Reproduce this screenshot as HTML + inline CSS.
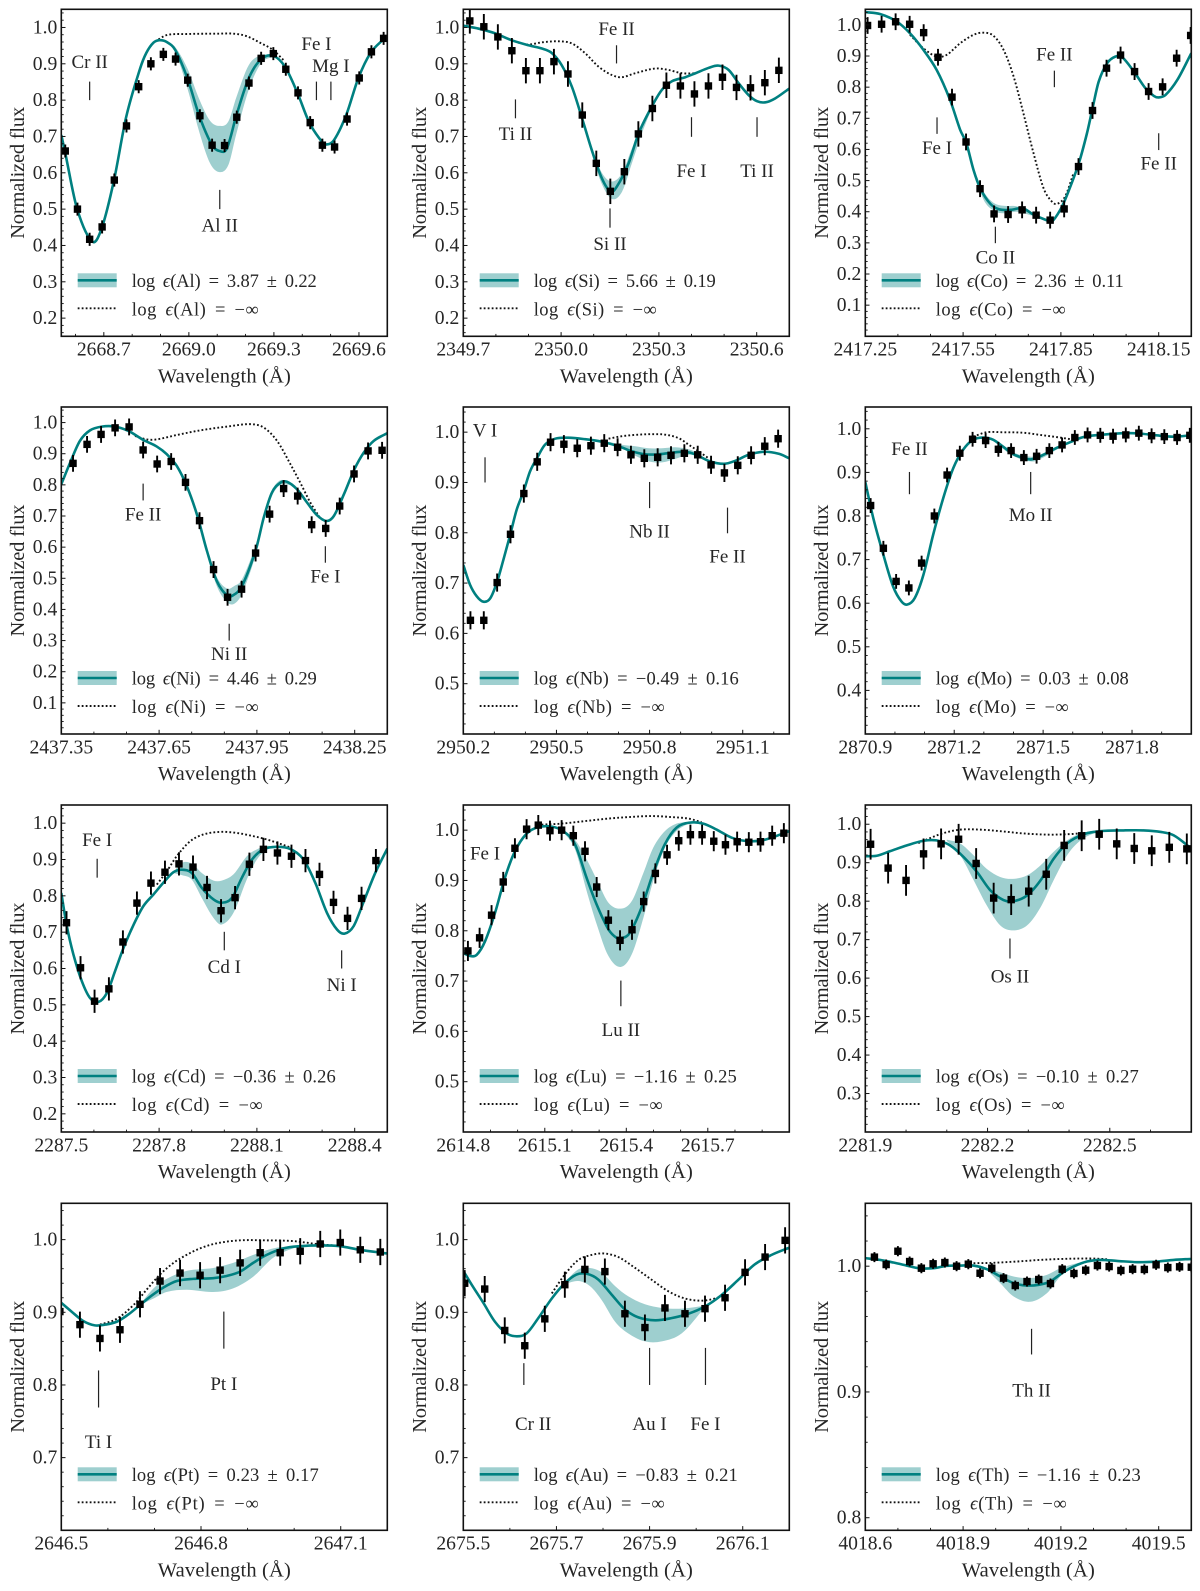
<!DOCTYPE html>
<html lang="en">
<head>
<meta charset="utf-8">
<title>Normalized flux spectra</title>
<style>
html,body{margin:0;padding:0;background:#fff;}
body{width:1200px;height:1591px;overflow:hidden;}
svg{display:block;}
text{font-family:"Liberation Serif","DejaVu Serif",serif;fill:#262626;}
.tick-text{font-size:19.6px;}
.ann-text{font-size:19px;text-anchor:middle;}
.axis-title{font-size:20.5px;text-anchor:middle;}
.legend-text{font-size:18.5px;word-spacing:3.5px;}
.frame{fill:none;stroke:#111;stroke-width:1.6;}
.band{fill:#008080;fill-opacity:.38;stroke:none;}
.model{fill:none;stroke:#008080;stroke-width:2.6;}
.dotted{fill:none;stroke:#111;stroke-width:1.9;stroke-dasharray:1.8 2.2;}
.eps{font-style:italic;}
</style>
</head>
<body>
<svg id="figure" width="1200" height="1591" viewBox="0 0 1200 1591" xmlns="http://www.w3.org/2000/svg">
<defs><clipPath id="axes-clip"><rect x="0" y="0" width="326" height="327"></rect></clipPath></defs>

<g id="panel-al" transform="translate(61.3,9.3)">
<g class="plot"></g>
<rect class="frame" width="326" height="327"></rect>
<text class="axis-title" x="163" y="373" textLength="133">Wavelength (Å)</text>
<text class="axis-title" transform="translate(-37.4,163.5) rotate(-90)" textLength="132">Normalized flux</text>
<g>
<rect class="band" x="16.4" y="264" width="39" height="14"></rect>
<line class="model" x1="16.4" x2="55.4" y1="271" y2="271"></line>
<line class="dotted" x1="16.4" x2="55.4" y1="299" y2="299"></line>
<text class="legend-text" x="70.4" y="277.7" textLength="185">log <tspan class="eps">ϵ</tspan>(Al) = 3.87 ± 0.22</text>
<text class="legend-text" x="70.4" y="306" textLength="127">log <tspan class="eps">ϵ</tspan>(Al) = −∞</text>
</g>
</g>

<g id="panel-si" transform="translate(463.3,9.3)">
<g class="plot"></g>
<rect class="frame" width="326" height="327"></rect>
<text class="axis-title" x="163" y="373" textLength="133">Wavelength (Å)</text>
<text class="axis-title" transform="translate(-37.4,163.5) rotate(-90)" textLength="132">Normalized flux</text>
<g>
<rect class="band" x="16.4" y="264" width="39" height="14"></rect>
<line class="model" x1="16.4" x2="55.4" y1="271" y2="271"></line>
<line class="dotted" x1="16.4" x2="55.4" y1="299" y2="299"></line>
<text class="legend-text" x="70.4" y="277.7" textLength="182">log <tspan class="eps">ϵ</tspan>(Si) = 5.66 ± 0.19</text>
<text class="legend-text" x="70.4" y="306" textLength="123">log <tspan class="eps">ϵ</tspan>(Si) = −∞</text>
</g>
</g>

<g id="panel-co" transform="translate(865.3,9.3)">
<g class="plot"></g>
<rect class="frame" width="326" height="327"></rect>
<text class="axis-title" x="163" y="373" textLength="133">Wavelength (Å)</text>
<text class="axis-title" transform="translate(-37.4,163.5) rotate(-90)" textLength="132">Normalized flux</text>
<g>
<rect class="band" x="16.4" y="264" width="39" height="14"></rect>
<line class="model" x1="16.4" x2="55.4" y1="271" y2="271"></line>
<line class="dotted" x1="16.4" x2="55.4" y1="299" y2="299"></line>
<text class="legend-text" x="70.4" y="277.7" textLength="188">log <tspan class="eps">ϵ</tspan>(Co) = 2.36 ± 0.11</text>
<text class="legend-text" x="70.4" y="306" textLength="130">log <tspan class="eps">ϵ</tspan>(Co) = −∞</text>
</g>
</g>

<g id="panel-ni" transform="translate(61.3,407)">
<g class="plot"></g>
<rect class="frame" width="326" height="327"></rect>
<text class="axis-title" x="163" y="373" textLength="133">Wavelength (Å)</text>
<text class="axis-title" transform="translate(-37.4,163.5) rotate(-90)" textLength="132">Normalized flux</text>
<g>
<rect class="band" x="16.4" y="264" width="39" height="14"></rect>
<line class="model" x1="16.4" x2="55.4" y1="271" y2="271"></line>
<line class="dotted" x1="16.4" x2="55.4" y1="299" y2="299"></line>
<text class="legend-text" x="70.4" y="277.7" textLength="185">log <tspan class="eps">ϵ</tspan>(Ni) = 4.46 ± 0.29</text>
<text class="legend-text" x="70.4" y="306" textLength="127">log <tspan class="eps">ϵ</tspan>(Ni) = −∞</text>
</g>
</g>

<g id="panel-nb" transform="translate(463.3,407)">
<g class="plot"></g>
<rect class="frame" width="326" height="327"></rect>
<text class="axis-title" x="163" y="373" textLength="133">Wavelength (Å)</text>
<text class="axis-title" transform="translate(-37.4,163.5) rotate(-90)" textLength="132">Normalized flux</text>
<g>
<rect class="band" x="16.4" y="264" width="39" height="14"></rect>
<line class="model" x1="16.4" x2="55.4" y1="271" y2="271"></line>
<line class="dotted" x1="16.4" x2="55.4" y1="299" y2="299"></line>
<text class="legend-text" x="70.4" y="277.7" textLength="205">log <tspan class="eps">ϵ</tspan>(Nb) = −0.49 ± 0.16</text>
<text class="legend-text" x="70.4" y="306" textLength="131">log <tspan class="eps">ϵ</tspan>(Nb) = −∞</text>
</g>
</g>

<g id="panel-mo" transform="translate(865.3,407)">
<g class="plot"></g>
<rect class="frame" width="326" height="327"></rect>
<text class="axis-title" x="163" y="373" textLength="133">Wavelength (Å)</text>
<text class="axis-title" transform="translate(-37.4,163.5) rotate(-90)" textLength="132">Normalized flux</text>
<g>
<rect class="band" x="16.4" y="264" width="39" height="14"></rect>
<line class="model" x1="16.4" x2="55.4" y1="271" y2="271"></line>
<line class="dotted" x1="16.4" x2="55.4" y1="299" y2="299"></line>
<text class="legend-text" x="70.4" y="277.7" textLength="193">log <tspan class="eps">ϵ</tspan>(Mo) = 0.03 ± 0.08</text>
<text class="legend-text" x="70.4" y="306" textLength="133">log <tspan class="eps">ϵ</tspan>(Mo) = −∞</text>
</g>
</g>

<g id="panel-cd" transform="translate(61.3,805)">
<g class="plot"></g>
<rect class="frame" width="326" height="327"></rect>
<text class="axis-title" x="163" y="373" textLength="133">Wavelength (Å)</text>
<text class="axis-title" transform="translate(-37.4,163.5) rotate(-90)" textLength="132">Normalized flux</text>
<g>
<rect class="band" x="16.4" y="264" width="39" height="14"></rect>
<line class="model" x1="16.4" x2="55.4" y1="271" y2="271"></line>
<line class="dotted" x1="16.4" x2="55.4" y1="299" y2="299"></line>
<text class="legend-text" x="70.4" y="277.7" textLength="204">log <tspan class="eps">ϵ</tspan>(Cd) = −0.36 ± 0.26</text>
<text class="legend-text" x="70.4" y="306" textLength="131">log <tspan class="eps">ϵ</tspan>(Cd) = −∞</text>
</g>
</g>

<g id="panel-lu" transform="translate(463.3,805)">
<g class="plot"></g>
<rect class="frame" width="326" height="327"></rect>
<text class="axis-title" x="163" y="373" textLength="133">Wavelength (Å)</text>
<text class="axis-title" transform="translate(-37.4,163.5) rotate(-90)" textLength="132">Normalized flux</text>
<g>
<rect class="band" x="16.4" y="264" width="39" height="14"></rect>
<line class="model" x1="16.4" x2="55.4" y1="271" y2="271"></line>
<line class="dotted" x1="16.4" x2="55.4" y1="299" y2="299"></line>
<text class="legend-text" x="70.4" y="277.7" textLength="203">log <tspan class="eps">ϵ</tspan>(Lu) = −1.16 ± 0.25</text>
<text class="legend-text" x="70.4" y="306" textLength="129">log <tspan class="eps">ϵ</tspan>(Lu) = −∞</text>
</g>
</g>

<g id="panel-os" transform="translate(865.3,805)">
<g class="plot"></g>
<rect class="frame" width="326" height="327"></rect>
<text class="axis-title" x="163" y="373" textLength="133">Wavelength (Å)</text>
<text class="axis-title" transform="translate(-37.4,163.5) rotate(-90)" textLength="132">Normalized flux</text>
<g>
<rect class="band" x="16.4" y="264" width="39" height="14"></rect>
<line class="model" x1="16.4" x2="55.4" y1="271" y2="271"></line>
<line class="dotted" x1="16.4" x2="55.4" y1="299" y2="299"></line>
<text class="legend-text" x="70.4" y="277.7" textLength="203">log <tspan class="eps">ϵ</tspan>(Os) = −0.10 ± 0.27</text>
<text class="legend-text" x="70.4" y="306" textLength="129">log <tspan class="eps">ϵ</tspan>(Os) = −∞</text>
</g>
</g>

<g id="panel-pt" transform="translate(61.3,1203.3)">
<g class="plot"></g>
<rect class="frame" width="326" height="327"></rect>
<text class="axis-title" x="163" y="373" textLength="133">Wavelength (Å)</text>
<text class="axis-title" transform="translate(-37.4,163.5) rotate(-90)" textLength="132">Normalized flux</text>
<g>
<rect class="band" x="16.4" y="264" width="39" height="14"></rect>
<line class="model" x1="16.4" x2="55.4" y1="271" y2="271"></line>
<line class="dotted" x1="16.4" x2="55.4" y1="299" y2="299"></line>
<text class="legend-text" x="70.4" y="277.7" textLength="187">log <tspan class="eps">ϵ</tspan>(Pt) = 0.23 ± 0.17</text>
<text class="legend-text" x="70.4" y="306" textLength="127">log <tspan class="eps">ϵ</tspan>(Pt) = −∞</text>
</g>
</g>

<g id="panel-au" transform="translate(463.3,1203.3)">
<g class="plot"></g>
<rect class="frame" width="326" height="327"></rect>
<text class="axis-title" x="163" y="373" textLength="133">Wavelength (Å)</text>
<text class="axis-title" transform="translate(-37.4,163.5) rotate(-90)" textLength="132">Normalized flux</text>
<g>
<rect class="band" x="16.4" y="264" width="39" height="14"></rect>
<line class="model" x1="16.4" x2="55.4" y1="271" y2="271"></line>
<line class="dotted" x1="16.4" x2="55.4" y1="299" y2="299"></line>
<text class="legend-text" x="70.4" y="277.7" textLength="204">log <tspan class="eps">ϵ</tspan>(Au) = −0.83 ± 0.21</text>
<text class="legend-text" x="70.4" y="306" textLength="131">log <tspan class="eps">ϵ</tspan>(Au) = −∞</text>
</g>
</g>

<g id="panel-th" transform="translate(865.3,1203.3)">
<g class="plot"></g>
<rect class="frame" width="326" height="327"></rect>
<text class="axis-title" x="163" y="373" textLength="133">Wavelength (Å)</text>
<text class="axis-title" transform="translate(-37.4,163.5) rotate(-90)" textLength="132">Normalized flux</text>
<g>
<rect class="band" x="16.4" y="264" width="39" height="14"></rect>
<line class="model" x1="16.4" x2="55.4" y1="271" y2="271"></line>
<line class="dotted" x1="16.4" x2="55.4" y1="299" y2="299"></line>
<text class="legend-text" x="70.4" y="277.7" textLength="205">log <tspan class="eps">ϵ</tspan>(Th) = −1.16 ± 0.23</text>
<text class="legend-text" x="70.4" y="306" textLength="131">log <tspan class="eps">ϵ</tspan>(Th) = −∞</text>
</g>
</g>
</svg>

<script>
// All *Dw arrays are wavelength offsets (Angstrom) from the panel's lower x limit; all other numbers are flux.
// ---- Al ----
const alXLim=[2668.55,2669.70], alYLim=[0.15,1.05];
const alXTicks=['2668.7','2669.0','2669.3','2669.6'], alYTicks=['0.2','0.3','0.4','0.5','0.6','0.7','0.8','0.9','1.0'];
const alObsDw=[.014,.057,.100,.144,.187,.230,.273,.316,.360,.403,.446,.489,.532,.576,.619,.662,.705,.748,.792,.835,.878,.921,.964,1.008,1.051,1.094,1.137];
const alObsFlux=[.660,.500,.417,.451,.580,.729,.837,.900,.926,.913,.855,.757,.676,.675,.753,.847,.915,.928,.885,.820,.738,.676,.671,.748,.861,.933,.970];
const alErr=.018;
const alModelDw=[0,.014,.056,.111,.144,.186,.229,.278,.300,.325,.346,.372,.402,.445,.488,.532,.558,.584,.618,.661,.704,.747,.789,.833,.875,.919,.936,.962,1.005,1.048,1.091,1.136,1.15];
const alModelFlux=[.704,.654,.500,.410,.451,.580,.754,.887,.930,.958,.965,.960,.938,.860,.754,.676,.660,.667,.759,.860,.912,.922,.892,.820,.738,.686,.678,.690,.759,.861,.930,.967,.976];
const alBandDw=[.372,.402,.445,.488,.525,.558,.589,.618,.661,.704,.747];
const alBandHi=[.960,.946,.887,.800,.743,.729,.741,.809,.896,.924,.924];
const alBandLo=[.958,.932,.832,.709,.626,.602,.621,.709,.828,.901,.920];
const alDotDw=[.331,.372,.442,.558,.607,.654,.701,.747,.784];
const alDotFlux=[.961,.979,.982,.983,.983,.976,.958,.938,.910];
const alAnnLabels=['Cr II','Al II','Fe I','Mg I'], alAnnDw=[.100,.559,.900,.951], alAnnTop=[.851,.553,.851,.851], alAnnBottom=[.800,.500,.800,.800], alAnnTextFlux=[.889,.438,.938,.878], alAnnTextDw=[.100,.559,.900,.951];

// ---- Si ----
const siXLim=[2349.7,2350.7], siYLim=[0.15,1.05];
const siXTicks=['2349.7','2350.0','2350.3','2350.6'], siYTicks=['0.2','0.3','0.4','0.5','0.6','0.7','0.8','0.9','1.0'];
const siObsDw=[.020,.063,.106,.149,.192,.235,.278,.321,.365,.408,.451,.494,.537,.580,.623,.666,.709,.752,.795,.838,.881,.925,.968];
const siObsFlux=[1.018,1.002,.974,.936,.881,.881,.906,.872,.759,.626,.549,.603,.707,.777,.841,.839,.817,.839,.863,.835,.834,.848,.882];
const siErr=.035;
const siModelDw=[0,.046,.097,.148,.200,.241,.271,.302,.333,.363,.394,.425,.452,.471,.507,.538,.578,.609,.640,.681,.712,.753,.783,.814,.845,.875,.901,.927,.957,1.0];
const siModelFlux=[1.005,.997,.984,.965,.951,.942,.930,.896,.837,.754,.663,.585,.548,.562,.626,.709,.782,.828,.852,.863,.874,.889,.895,.883,.846,.814,.797,.794,.805,.832];
const siBandDw=[.333,.363,.394,.425,.456,.487,.517,.548,.578];
const siBandHi=[.839,.759,.672,.600,.576,.599,.667,.731,.786];
const siBandLo=[.835,.750,.652,.569,.528,.548,.626,.709,.777];
const siDotDw=[.169,.200,.241,.292,.333,.374,.415,.456,.486,.527,.589,.630,.671,.712];
const siDotFlux=[.958,.953,.959,.962,.956,.929,.892,.869,.863,.874,.887,.883,.874,.874];
const siAnnLabels=['Ti II','Fe II','Si II','Fe I','Ti II'], siAnnDw=[.160,.470,.450,.700,.901], siAnnTop=[.802,.951,.502,.753,.753], siAnnBottom=[.750,.901,.449,.699,.699], siAnnTextFlux=[.690,.979,.388,.589,.589], siAnnTextDw=[.160,.470,.450,.700,.901];

// ---- Co ----
const coXLim=[2417.25,2418.25], coYLim=[0,1.05];
const coXTicks=['2417.25','2417.55','2417.85','2418.15'], coYTicks=['0.1','0.2','0.3','0.4','0.5','0.6','0.7','0.8','0.9','1.0'];
const coObsDw=[.007,.050,.093,.136,.179,.223,.266,.309,.352,.395,.438,.481,.524,.567,.610,.654,.697,.740,.783,.826,.869,.912,.955,.998];
const coObsFlux=[.998,1.002,1.010,1.002,.975,.896,.768,.624,.474,.393,.391,.406,.389,.373,.409,.545,.725,.861,.903,.850,.786,.801,.893,.966];
const coErr=.027;
const coModelDw=[0,.045,.096,.137,.178,.219,.260,.291,.310,.332,.353,.384,.410,.445,.483,.517,.558,.572,.598,.619,.655,.680,.697,.716,.742,.767,.788,.824,.859,.885,.900,.921,.957,1.0];
const coModelFlux=[1.041,1.035,1.011,.973,.920,.855,.759,.663,.620,.534,.474,.425,.408,.406,.411,.390,.372,.368,.406,.454,.556,.652,.732,.818,.877,.898,.896,.850,.797,.772,.767,.775,.823,.909];
const coBandDw=[.332,.363,.393,.424,.465,.510];
const coBandHi=[.540,.465,.429,.419,.417,.393];
const coBandLo=[.529,.438,.404,.395,.400,.388];
const coDotDw=[.137,.178,.219,.250,.291,.332,.362,.393,.424,.455,.485,.516,.547,.572,.588,.613,.639];
const coDotFlux=[.968,.925,.898,.904,.941,.968,.975,.965,.920,.834,.716,.588,.475,.433,.425,.449,.524];
const coAnnLabels=['Fe I','Co II','Fe II','Fe II'], coAnnDw=[.220,.399,.580,.900], coAnnTop=[.703,.352,.853,.652], coAnnBottom=[.650,.299,.800,.598], coAnnTextFlux=[.586,.234,.885,.536], coAnnTextDw=[.220,.399,.580,.900];

// ---- Ni ----
const niXLim=[2437.35,2438.35], niYLim=[0,1.05];
const niXTicks=['2437.35','2437.65','2437.95','2438.25'], niYTicks=['0.1','0.2','0.3','0.4','0.5','0.6','0.7','0.8','0.9','1.0'];
const niObsDw=[.036,.079,.122,.165,.208,.251,.294,.337,.381,.424,.467,.510,.553,.596,.639,.682,.725,.768,.811,.854,.898,.941,.984];
const niObsFlux=[.869,.930,.962,.983,.986,.912,.867,.875,.808,.685,.528,.439,.465,.581,.706,.788,.764,.672,.660,.732,.835,.909,.911];
const niErr=.027;
const niModelDw=[0,.027,.057,.088,.124,.165,.206,.252,.293,.324,.354,.385,.416,.447,.477,.508,.523,.554,.597,.621,.646,.672,.692,.723,.754,.784,.813,.836,.867,.899,.928,.958,1.0];
const niModelFlux=[.802,.871,.941,.975,.987,.987,.973,.944,.923,.898,.861,.796,.705,.587,.491,.445,.443,.475,.593,.695,.775,.807,.810,.786,.743,.703,.684,.700,.770,.850,.904,.941,.966];
const niBandDw=[.354,.385,.416,.447,.477,.508,.530,.554,.597,.621,.646,.672,.700];
const niBandHi=[.864,.800,.711,.593,.504,.467,.475,.496,.609,.705,.782,.815,.807];
const niBandLo=[.857,.793,.700,.579,.475,.424,.418,.450,.577,.684,.764,.800,.800];
const niDotDw=[.226,.262,.293,.354,.426,.508,.580,.621,.662,.703,.733,.764,.795];
const niDotFlux=[.957,.946,.946,.960,.975,.987,.995,.984,.941,.866,.807,.743,.692];
const niAnnLabels=['Fe II','Ni II','Fe I'], niAnnDw=[.251,.515,.810], niAnnTop=[.804,.354,.603], niAnnBottom=[.750,.300,.550], niAnnTextFlux=[.686,.237,.486], niAnnTextDw=[.251,.515,.810];

// ---- Nb ----
const nbXLim=[2950.2,2951.25], nbYLim=[0.4,1.05];
const nbXTicks=['2950.2','2950.5','2950.8','2951.1'], nbYTicks=['0.5','0.6','0.7','0.8','0.9','1.0'];
const nbObsDw=[.023,.066,.109,.152,.195,.238,.281,.324,.367,.411,.454,.497,.540,.583,.626,.669,.712,.755,.798,.841,.884,.927,.971,1.014];
const nbObsFlux=[.626,.626,.701,.797,.878,.941,.980,.976,.968,.973,.978,.970,.955,.948,.950,.954,.958,.955,.935,.919,.934,.954,.972,.987];
const nbErr=.018;
const nbModelDw=[0,.0215,.043,.0645,.086,.1075,.129,.151,.172,.194,.215,.237,.263,.296,.339,.392,.446,.500,.543,.586,.629,.683,.715,.747,.790,.839,.876,.919,.968,1.016,1.05];
const nbModelFlux=[.736,.697,.674,.663,.669,.700,.746,.796,.846,.882,.922,.948,.975,.987,.989,.986,.981,.972,.962,.956,.956,.960,.961,.956,.943,.937,.943,.955,.961,.957,.948];
const nbBandDw=[.468,.511,.554,.597,.640,.683,.726,.758];
const nbBandHi=[.981,.975,.972,.968,.968,.970,.966,.958];
const nbBandLo=[.980,.968,.953,.942,.940,.947,.955,.954];
const nbDotDw=[.468,.511,.565,.608,.651,.694,.726,.758,.790];
const nbDotFlux=[.987,.992,.995,.996,.995,.988,.975,.962,.948];
const nbAnnLabels=['V I','Nb II','Fe II'], nbAnnDw=[.070,.600,.851], nbAnnTop=[.950,.901,.850], nbAnnBottom=[.900,.849,.799], nbAnnTextFlux=[.991,.791,.741], nbAnnTextDw=[.070,.600,.851];

// ---- Mo ----
const moXLim=[2870.9,2872.0], moYLim=[0.3,1.05];
const moXTicks=['2870.9','2871.2','2871.5','2871.8'], moYTicks=['0.4','0.5','0.6','0.7','0.8','0.9','1.0'];
const moObsDw=[.018,.061,.104,.147,.190,.233,.276,.319,.362,.406,.449,.492,.535,.578,.621,.664,.707,.750,.793,.836,.879,.923,.966,1.009,1.052,1.095];
const moObsFlux=[.824,.726,.650,.635,.692,.800,.894,.944,.976,.973,.953,.950,.934,.937,.950,.963,.980,.986,.985,.983,.986,.990,.984,.982,.980,.985];
const moErr=.017;
const moModelDw=[0,.027,.061,.094,.122,.142,.167,.196,.229,.263,.297,.330,.364,.398,.431,.465,.499,.533,.561,.600,.645,.690,.735,.791,.870,.926,.982,1.038,1.1];
const moModelFlux=[.878,.795,.711,.638,.604,.597,.612,.665,.757,.841,.910,.952,.975,.980,.975,.959,.942,.933,.930,.940,.956,.969,.981,.986,.990,.989,.985,.982,.985];
const moBandDw=[.431,.499,.561,.600,.645,.690];
const moBandHi=[.976,.946,.936,.944,.958,.971];
const moBandLo=[.972,.938,.925,.934,.952,.967];
const moDotDw=[.364,.409,.465,.533,.600,.667,.701];
const moDotFlux=[.982,.992,.992,.991,.985,.979,.975];
const moAnnLabels=['Fe II','Mo II'], moAnnDw=[.149,.558], moAnnTop=[.901,.901], moAnnBottom=[.850,.850], moAnnTextFlux=[.940,.789], moAnnTextDw=[.149,.558];

// ---- Cd ----
const cdXLim=[2287.5,2288.5], cdYLim=[0.15,1.05];
const cdXTicks=['2287.5','2287.8','2288.1','2288.4'], cdYTicks=['0.2','0.3','0.4','0.5','0.6','0.7','0.8','0.9','1.0'];
const cdObsDw=[.016,.059,.102,.146,.189,.232,.275,.318,.361,.404,.447,.490,.533,.577,.620,.663,.706,.749,.792,.835,.878,.921,.965];
const cdObsFlux=[.726,.602,.510,.544,.673,.780,.835,.865,.888,.879,.823,.759,.795,.887,.928,.918,.909,.897,.859,.782,.738,.793,.897];
const cdErr=.032;
const cdModelDw=[0,.016,.037,.063,.088,.114,.140,.165,.191,.222,.252,.283,.313,.344,.370,.400,.431,.467,.492,.523,.554,.585,.620,.661,.702,.743,.779,.815,.846,.869,.897,.928,.963,1.0];
const cdModelFlux=[.808,.721,.639,.565,.519,.508,.533,.593,.657,.721,.772,.804,.836,.865,.872,.863,.822,.790,.781,.794,.850,.900,.928,.935,.929,.900,.836,.753,.707,.696,.717,.785,.863,.930];
const cdBandDw=[.344,.370,.400,.431,.467,.492,.528,.569,.600,.631,.661];
const cdBandHi=[.865,.891,.889,.863,.842,.842,.859,.909,.928,.937,.936];
const cdBandLo=[.863,.857,.845,.794,.739,.721,.753,.845,.900,.928,.935];
const cdDotDw=[.293,.324,.354,.395,.436,.487,.539,.590,.631,.672,.707];
const cdDotFlux=[.831,.868,.909,.950,.969,.976,.973,.964,.955,.943,.932];
const cdAnnLabels=['Fe I','Cd I','Ni I'], cdAnnDw=[.110,.500,.860], cdAnnTop=[.902,.701,.650], cdAnnBottom=[.850,.650,.600], cdAnnTextFlux=[.937,.588,.538], cdAnnTextDw=[.110,.500,.860];

// ---- Lu ----
const luXLim=[2614.8,2616.0], luYLim=[0.4,1.05];
const luXTicks=['2614.8','2615.1','2615.4','2615.7'], luYTicks=['0.5','0.6','0.7','0.8','0.9','1.0'];
const luObsDw=[.017,.060,.104,.147,.190,.233,.276,.319,.362,.405,.448,.491,.534,.577,.621,.664,.707,.750,.793,.836,.879,.922,.965,1.008,1.051,1.094,1.137,1.180];
const luObsFlux=[.760,.786,.831,.897,.964,1.002,1.010,.999,1.0,.989,.958,.887,.821,.781,.802,.858,.914,.951,.979,.991,.991,.978,.971,.977,.976,.977,.989,.994];
const luErr=.02;
const luModelDw=[0,.0245,.049,.080,.117,.153,.190,.233,.276,.325,.368,.411,.454,.491,.534,.564,.583,.613,.656,.699,.742,.785,.834,.883,.933,.988,1.049,1.110,1.2];
const luModelFlux=[.756,.750,.752,.779,.836,.905,.958,.993,1.006,1.007,.998,.972,.905,.852,.803,.786,.785,.796,.846,.915,.972,1.005,1.015,1.013,1.001,.985,.978,.981,.998];
const luBandDw=[.362,.411,.454,.491,.534,.579,.620,.663,.699,.742,.785,.828];
const luBandHi=[1.001,.981,.942,.902,.856,.844,.859,.915,.965,.998,1.013,1.016];
const luBandLo=[1.0,.962,.879,.813,.750,.728,.753,.826,.899,.965,.998,1.013];
const luDotDw=[.288,.362,.448,.534,.607,.693,.767,.828,.877];
const luDotFlux=[1.011,1.013,1.018,1.023,1.026,1.028,1.026,1.023,1.016];
const luAnnLabels=['Fe I','Lu II'], luAnnDw=[.080,.580], luAnnTop=[null,.701], luAnnBottom=[null,.650], luAnnTextFlux=[.942,.591], luAnnTextDw=[.080,.580];

// ---- Os ----
const osXLim=[2281.9,2282.7], osYLim=[0.2,1.05];
const osXTicks=['2281.9','2282.2','2282.5'], osYTicks=['0.3','0.4','0.5','0.6','0.7','0.8','0.9','1.0'];
const osObsDw=[.013,.056,.100,.143,.186,.229,.272,.315,.358,.401,.444,.488,.531,.574,.617,.660,.703,.746,.789];
const osObsFlux=[.948,.886,.854,.923,.949,.961,.898,.808,.804,.826,.870,.945,.970,.974,.949,.937,.931,.940,.936];
const osErr=.04;
const osModelDw=[0,.028,.061,.102,.143,.175,.208,.241,.274,.307,.339,.364,.397,.430,.462,.495,.536,.577,.634,.684,.725,.757,.8];
const osModelFlux=[.917,.918,.930,.945,.957,.958,.945,.915,.876,.828,.803,.800,.815,.854,.910,.950,.974,.982,.984,.984,.980,.971,.937];
const osBandDw=[.200,.233,.266,.298,.331,.362,.397,.430,.462,.495,.528,.561];
const osBandHi=[.960,.950,.919,.884,.863,.858,.867,.893,.928,.958,.976,.983];
const osBandLo=[.957,.919,.854,.789,.737,.724,.737,.784,.854,.919,.958,.977];
const osDotDw=[.130,.159,.192,.233,.282,.331,.389,.446,.495,.536,.577];
const osDotFlux=[.951,.964,.977,.986,.986,.982,.976,.973,.974,.977,.982];
const osAnnLabels=['Os II'], osAnnDw=[.355], osAnnTop=[.703], osAnnBottom=[.651], osAnnTextFlux=[.589], osAnnTextDw=[.355];

// ---- Pt ----
const ptXLim=[2646.5,2647.2], ptYLim=[0.6,1.05];
const ptXTicks=['2646.5','2646.8','2647.1'], ptYTicks=['0.7','0.8','0.9','1.0'];
const ptObsDw=[-.003,.040,.083,.126,.169,.212,.255,.298,.341,.384,.427,.470,.513,.556,.599,.642,.685];
const ptObsFlux=[.901,.883,.864,.876,.911,.943,.954,.951,.958,.968,.982,.982,.984,.994,.996,.986,.983];
const ptErr=.018;
const ptModelDw=[0,.022,.047,.072,.094,.119,.144,.169,.194,.219,.248,.283,.326,.355,.384,.412,.441,.477,.513,.555,.598,.641,.700];
const ptModelFlux=[.913,.901,.888,.882,.883,.887,.897,.910,.923,.934,.943,.946,.947,.950,.956,.968,.979,.988,.991,.992,.991,.986,.981];
const ptBandDw=[.169,.198,.226,.269,.326,.369,.412,.455,.498,.527];
const ptBandHi=[.911,.933,.946,.957,.961,.968,.979,.988,.991,.992];
const ptBandLo=[.910,.919,.928,.931,.928,.933,.949,.975,.988,.991];
const ptDotDw=[.083,.119,.155,.183,.212,.241,.269,.298,.334,.384,.441,.498,.548,.584];
const ptDotFlux=[.883,.891,.910,.931,.952,.968,.979,.988,.995,.999,.999,.998,.994,.992];
const ptAnnLabels=['Ti I','Pt I'], ptAnnDw=[.080,.349], ptAnnTop=[.820,.901], ptAnnBottom=[.769,.850], ptAnnTextFlux=[.713,.793], ptAnnTextDw=[.080,.349];

// ---- Au ----
const auXLim=[2675.5,2676.2], auYLim=[0.6,1.05];
const auXTicks=['2675.5','2675.7','2675.9','2676.1'], auYTicks=['0.7','0.8','0.9','1.0'];
const auObsDw=[.003,.046,.089,.132,.175,.218,.261,.304,.347,.390,.433,.476,.519,.562,.605,.648,.691];
const auObsFlux=[.940,.932,.875,.854,.891,.938,.959,.956,.898,.879,.906,.898,.905,.920,.955,.976,.999];
const auErr=.018;
const auModelDw=[0,.018,.043,.068,.093,.115,.136,.161,.190,.218,.243,.265,.290,.319,.347,.376,.412,.447,.483,.519,.555,.591,.626,.662,.700];
const auModelFlux=[.957,.938,.913,.887,.871,.867,.871,.892,.919,.940,.952,.953,.945,.924,.904,.893,.889,.892,.898,.908,.924,.945,.966,.979,.989];
const auBandDw=[.218,.247,.272,.297,.326,.354,.390,.426,.469,.519];
const auBandHi=[.942,.959,.961,.955,.936,.922,.911,.906,.905,.909];
const auBandLo=[.939,.943,.936,.917,.887,.871,.860,.860,.871,.907];
const auDotDw=[.190,.218,.247,.276,.301,.333,.369,.404,.440,.476,.512,.540,.562];
const auDotFlux=[.926,.952,.972,.979,.981,.976,.961,.945,.929,.919,.916,.919,.924];
const auAnnLabels=['Cr II','Au I','Fe I'], auAnnDw=[.130,.400,.520], auAnnTop=[.830,.851,.851], auAnnBottom=[.800,.800,.800], auAnnTextFlux=[.738,.738,.738], auAnnTextDw=[.150,.400,.520];

// ---- Th ----
const thXLim=[4018.6,4019.6], thYLim=[0.79,1.05];
const thXTicks=['4018.6','4018.9','4019.2','4019.5'], thYTicks=['0.8','0.9','1.0'];
const thObsDw=[.028,.064,.100,.136,.172,.208,.244,.280,.316,.352,.388,.424,.460,.496,.532,.568,.604,.640,.676,.712,.748,.784,.820,.856,.892,.928,.964,1.000];
const thObsFlux=[1.0072,1.0013,1.0119,1.0037,.9984,1.0019,1.0029,1.0,1.0016,.9944,.9984,.9905,.9846,.9878,.9894,.9862,.9976,.9942,.9968,1.0005,.9997,.9966,.9976,.9974,1.0011,.9989,.9995,.9992];
const thErr=.004;
const thModelDw=[0,.045,.086,.127,.163,.209,.250,.291,.332,.373,.414,.455,.496,.532,.567,.603,.639,.680,.721,.772,.834,.895,.946,1.0];
const thModelFlux=[1.0064,1.005,1.0029,1.0005,.9984,.9984,1.0003,1.0005,1.0005,.9976,.9918,.9865,.9846,.9852,.9878,.9944,.9997,1.0037,1.005,1.0042,1.0032,1.0037,1.005,1.0058];
const thBandDw=[.373,.414,.455,.506,.557,.598,.639,.670];
const thBandHi=[.9984,.9952,.9918,.9905,.9931,.9984,1.0016,1.0037];
const thBandLo=[.9971,.9865,.9759,.9717,.9785,.9918,.9997,1.0034];
const thDotDw=[.332,.383,.465,.537,.608,.690,.741];
const thDotFlux=[1.0024,1.0026,1.0037,1.005,1.0058,1.0061,1.0056];
const thAnnLabels=['Th II'], thAnnDw=[.510], thAnnTop=[.9502], thAnnBottom=[.9298], thAnnTextFlux=[.8964], thAnnTextDw=[.510];

const panelList=[
 ['al',alXLim,alYLim,alXTicks,alYTicks,alObsDw,alObsFlux,alErr,alModelDw,alModelFlux,alBandDw,alBandHi,alBandLo,alDotDw,alDotFlux,alAnnLabels,alAnnDw,alAnnTop,alAnnBottom,alAnnTextFlux,alAnnTextDw],
 ['si',siXLim,siYLim,siXTicks,siYTicks,siObsDw,siObsFlux,siErr,siModelDw,siModelFlux,siBandDw,siBandHi,siBandLo,siDotDw,siDotFlux,siAnnLabels,siAnnDw,siAnnTop,siAnnBottom,siAnnTextFlux,siAnnTextDw],
 ['co',coXLim,coYLim,coXTicks,coYTicks,coObsDw,coObsFlux,coErr,coModelDw,coModelFlux,coBandDw,coBandHi,coBandLo,coDotDw,coDotFlux,coAnnLabels,coAnnDw,coAnnTop,coAnnBottom,coAnnTextFlux,coAnnTextDw],
 ['ni',niXLim,niYLim,niXTicks,niYTicks,niObsDw,niObsFlux,niErr,niModelDw,niModelFlux,niBandDw,niBandHi,niBandLo,niDotDw,niDotFlux,niAnnLabels,niAnnDw,niAnnTop,niAnnBottom,niAnnTextFlux,niAnnTextDw],
 ['nb',nbXLim,nbYLim,nbXTicks,nbYTicks,nbObsDw,nbObsFlux,nbErr,nbModelDw,nbModelFlux,nbBandDw,nbBandHi,nbBandLo,nbDotDw,nbDotFlux,nbAnnLabels,nbAnnDw,nbAnnTop,nbAnnBottom,nbAnnTextFlux,nbAnnTextDw],
 ['mo',moXLim,moYLim,moXTicks,moYTicks,moObsDw,moObsFlux,moErr,moModelDw,moModelFlux,moBandDw,moBandHi,moBandLo,moDotDw,moDotFlux,moAnnLabels,moAnnDw,moAnnTop,moAnnBottom,moAnnTextFlux,moAnnTextDw],
 ['cd',cdXLim,cdYLim,cdXTicks,cdYTicks,cdObsDw,cdObsFlux,cdErr,cdModelDw,cdModelFlux,cdBandDw,cdBandHi,cdBandLo,cdDotDw,cdDotFlux,cdAnnLabels,cdAnnDw,cdAnnTop,cdAnnBottom,cdAnnTextFlux,cdAnnTextDw],
 ['lu',luXLim,luYLim,luXTicks,luYTicks,luObsDw,luObsFlux,luErr,luModelDw,luModelFlux,luBandDw,luBandHi,luBandLo,luDotDw,luDotFlux,luAnnLabels,luAnnDw,luAnnTop,luAnnBottom,luAnnTextFlux,luAnnTextDw],
 ['os',osXLim,osYLim,osXTicks,osYTicks,osObsDw,osObsFlux,osErr,osModelDw,osModelFlux,osBandDw,osBandHi,osBandLo,osDotDw,osDotFlux,osAnnLabels,osAnnDw,osAnnTop,osAnnBottom,osAnnTextFlux,osAnnTextDw],
 ['pt',ptXLim,ptYLim,ptXTicks,ptYTicks,ptObsDw,ptObsFlux,ptErr,ptModelDw,ptModelFlux,ptBandDw,ptBandHi,ptBandLo,ptDotDw,ptDotFlux,ptAnnLabels,ptAnnDw,ptAnnTop,ptAnnBottom,ptAnnTextFlux,ptAnnTextDw],
 ['au',auXLim,auYLim,auXTicks,auYTicks,auObsDw,auObsFlux,auErr,auModelDw,auModelFlux,auBandDw,auBandHi,auBandLo,auDotDw,auDotFlux,auAnnLabels,auAnnDw,auAnnTop,auAnnBottom,auAnnTextFlux,auAnnTextDw],
 ['th',thXLim,thYLim,thXTicks,thYTicks,thObsDw,thObsFlux,thErr,thModelDw,thModelFlux,thBandDw,thBandHi,thBandLo,thDotDw,thDotFlux,thAnnLabels,thAnnDw,thAnnTop,thAnnBottom,thAnnTextFlux,thAnnTextDw]
];

const NS=document.getElementById('figure').namespaceURI;
const W=326,H=327;

function add(parent,tag,attrs){
  const el=document.createElementNS(NS,tag);
  for(const k in attrs){el.setAttribute(k,attrs[k]);}
  parent.appendChild(el);
  return el;
}
// smooth curve through the points: cubic Hermite with non-uniform tangents
function smooth(pts,move){
  const n=pts.length;
  const slope=i=>{
    const a=pts[Math.max(i-1,0)],b=pts[Math.min(i+1,n-1)];
    return (b[1]-a[1])/(b[0]-a[0]);
  };
  let d=(move?'M':'L')+pts[0][0].toFixed(2)+' '+pts[0][1].toFixed(2);
  for(let i=0;i<n-1;i++){
    const p1=pts[i],p2=pts[i+1],dx=(p2[0]-p1[0])/3;
    const c1x=p1[0]+dx,c1y=p1[1]+slope(i)*dx;
    const c2x=p2[0]-dx,c2y=p2[1]-slope(i+1)*dx;
    d+='C'+c1x.toFixed(2)+' '+c1y.toFixed(2)+' '+c2x.toFixed(2)+' '+c2y.toFixed(2)+' '+p2[0].toFixed(2)+' '+p2[1].toFixed(2);
  }
  return d;
}

function drawPanel(cfg){
  const [id,xLim,yLim,xTicks,yTicks,obsDw,obsFlux,err,modelDw,modelFlux,bandDw,bandHi,bandLo,dotDw,dotFlux,annLabels,annDw,annTop,annBottom,annTextFlux,annTextDw]=cfg;
  const xOfWave=w=>(w-xLim[0])/(xLim[1]-xLim[0])*W;
  const xOfDw=d=>d/(xLim[1]-xLim[0])*W;
  const yOfFlux=f=>H-(f-yLim[0])/(yLim[1]-yLim[0])*H;
  const plot=document.querySelector('#panel-'+id+' .plot');
  let el;

  const marks=add(plot,'g',{'clip-path':'url(#axes-clip)'});
  
  

  // uncertainty band
  const hiPts=bandDw.map((d,i)=>[xOfDw(d),yOfFlux(bandHi[i])]);
  const loPts=bandDw.map((d,i)=>[xOfDw(d),yOfFlux(bandLo[i])]).reverse();
  el=add(marks,'path',{class:'band',d:smooth(hiPts,true)+smooth(loPts,false)+'Z'});
  
  

  // no-element dotted model
  el=add(marks,'path',{class:'dotted',d:smooth(dotDw.map((d,i)=>[xOfDw(d),yOfFlux(dotFlux[i])]),true)});
  
  

  // best-fit model
  el=add(marks,'path',{class:'model',d:smooth(modelDw.map((d,i)=>[xOfDw(d),yOfFlux(modelFlux[i])]),true)});
  
  

  // observed spectrum
  obsDw.forEach((d,i)=>{
    const x=xOfDw(d),y=yOfFlux(obsFlux[i]);
    const bar=add(marks,'line',{x1:x,x2:x,y1:yOfFlux(obsFlux[i]+err),y2:yOfFlux(obsFlux[i]-err),stroke:'#000','stroke-width':1.9});
    
    
    const pt=add(marks,'rect',{x:x-3.7,y:y-3.7,width:7.4,height:7.4,fill:'#000'});
    
    
  });

  // line identification annotations
  annLabels.forEach((label,i)=>{
    if(annTop[i]!==null){
      const ln=add(plot,'line',{x1:xOfDw(annDw[i]),x2:xOfDw(annDw[i]),y1:yOfFlux(annTop[i]),y2:yOfFlux(annBottom[i]),stroke:'#222','stroke-width':1.2});
      
      
    }
    const t=add(plot,'text',{class:'ann-text',x:xOfDw(annTextDw[i]),y:yOfFlux(annTextFlux[i])});
    t.textContent=label;
    
    
  });

  // x axis ticks
  xTicks.forEach(lbl=>{
    const x=xOfWave(parseFloat(lbl));
    const tk=add(plot,'line',{x1:x,x2:x,y1:H,y2:H-4.2,stroke:'#111','stroke-width':1});
    
    
    const t=add(plot,'text',{class:'tick-text',x:x,y:H+19.3,'text-anchor':'middle'});
    t.textContent=lbl;
    
    
  });
  const xMajor=xTicks.map(parseFloat);
  for(let k=Math.ceil(xLim[0]/0.05);k*0.05<=xLim[1]+1e-6;k++){
    const v=k*0.05;
    const fromFirst=(v-xMajor[0])/0.1;
    if(Math.abs(fromFirst-Math.round(fromFirst))>1e-4)continue;
    if(xMajor.some(m=>Math.abs(m-v)<1e-4))continue;
    const x=xOfWave(v);
    const tk=add(plot,'line',{x1:x,x2:x,y1:H,y2:H-2.4,stroke:'#111','stroke-width':.9});
    
    
  }

  // y axis ticks
  yTicks.forEach(lbl=>{
    const y=yOfFlux(parseFloat(lbl));
    const tk=add(plot,'line',{x1:0,x2:4.2,y1:y,y2:y,stroke:'#111','stroke-width':1});
    
    
    const t=add(plot,'text',{class:'tick-text',x:-4,y:y+6,'text-anchor':'end'});
    t.textContent=lbl;
    
    
  });
  for(let k=Math.ceil(yLim[0]/0.02-1e-6);k*0.02<=yLim[1]+1e-6;k++){
    if(k%5===0)continue;
    const y=yOfFlux(k*0.02);
    const tk=add(plot,'line',{x1:0,x2:2.4,y1:y,y2:y,stroke:'#111','stroke-width':.9});
    
    
  }
}
panelList.forEach(drawPanel);
</script>
</body>
</html>
